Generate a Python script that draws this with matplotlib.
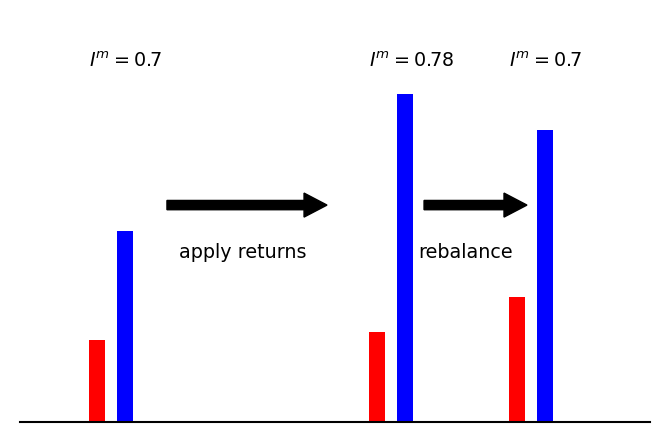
import matplotlib
matplotlib.use("Agg")
import matplotlib.pyplot as plt

# bar positions of the three states (before, after returns, after rebalance)
pos = [1.0, 3.0, 4.0]
risky = [0.3, 0.33, 0.459]      # red
safe = [0.7, 1.2, 1.071]        # blue
labels = [r"$I^m = 0.7$", r"$I^m = 0.78$", r"$I^m = 0.7$"]
steps = ["apply returns", "rebalance"]

w = 0.114
fig = plt.figure(figsize=(6.64, 4.43), dpi=100)
ax = fig.add_axes([0.030, 0.047, 0.949, 0.863])

ax.bar(pos, risky, width=w, color="red")
ax.bar([p + 0.2 for p in pos], safe, width=w, color="blue")

for p, s in zip(pos, labels):
    ax.text(p - w / 2, 1.32, s, fontsize=13.8, ha="left", va="center")

# arrows between states
ax.arrow(1.5, 0.795, 1.143, 0, width=0.034, head_width=0.088, head_length=0.164,
         length_includes_head=True, color="k")
ax.arrow(3.336, 0.795, 0.735, 0, width=0.034, head_width=0.088, head_length=0.164,
         length_includes_head=True, color="k")
ax.text(2.043, 0.62, steps[0], fontsize=13.8, ha="center", va="center")
ax.text(3.636, 0.62, steps[1], fontsize=13.8, ha="center", va="center")

ax.set_xlim(0.45, 4.95)
ax.set_ylim(0, 1.4)
for sp in ["top", "left", "right"]:
    ax.spines[sp].set_visible(False)
ax.spines["bottom"].set_linewidth(1.5)
ax.set_xticks([])
ax.set_yticks([])

plt.savefig("out.png", dpi=100)
